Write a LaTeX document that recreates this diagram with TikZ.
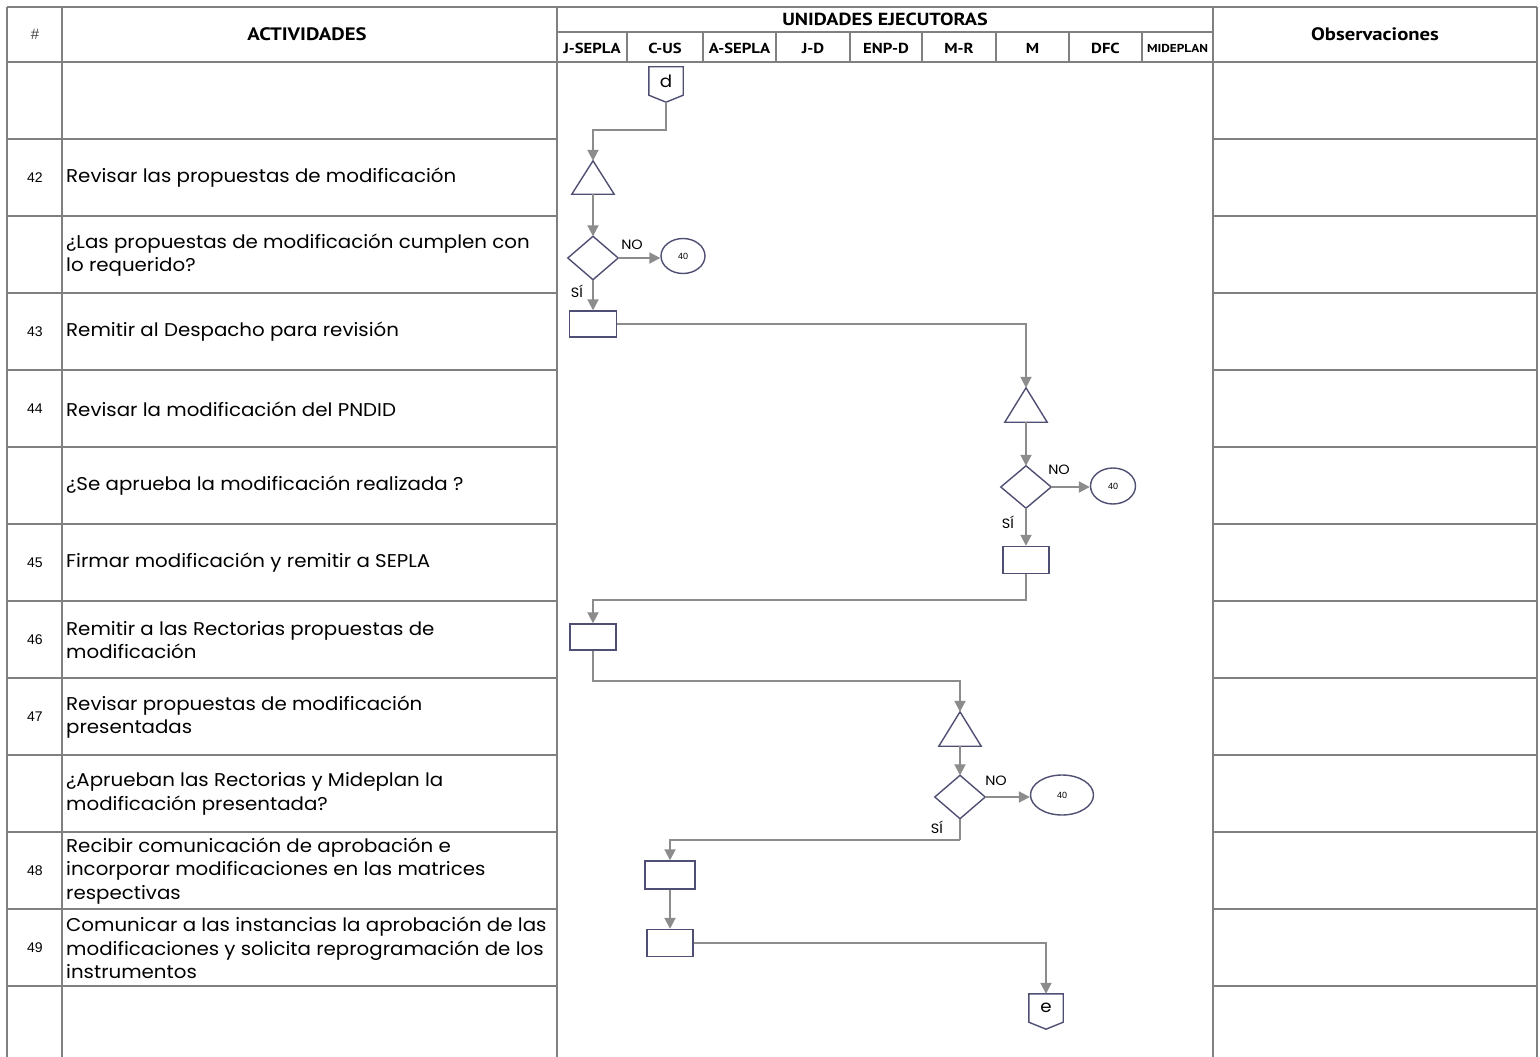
\documentclass[tikz,border=0pt]{standalone}
\usepackage{fontspec}
\setmainfont{Poppins}[FakeStretch=1.07]
\newfontfamily\hdrfont{PT Sans}[FakeStretch=1.15]
\newfontfamily\numfont{Liberation Sans}
\usetikzlibrary{arrows.meta,calc,shapes.geometric}
\definecolor{tline}{HTML}{808080}
\definecolor{sline}{HTML}{4F4F73}
\definecolor{aline}{HTML}{8C8C8C}
\tikzset{
 grid/.style={draw=tline,line width=2pt},
 box/.style={draw=sline,line width=1.4pt,fill=white,minimum width=47pt,minimum height=26pt,inner sep=0pt},
 ghost/.style={draw=none,inner sep=0pt},
 outl/.style={draw=sline,line width=1.4pt,line join=miter},
 flow/.style={draw=aline,line width=2pt,-{Triangle[length=11pt,width=11pt]}},
 endoval/.style={ellipse,draw=sline,line width=1.4pt,inner sep=0pt,font=\numfont\fontsize{9}{10}\selectfont},
 lbl/.style={font=\fontsize{13.5}{15}\selectfont,inner sep=0pt},
 act/.style={anchor=west,align=left,inner sep=0pt,font=\fontsize{18.5}{23.5}\selectfont},
 num/.style={font=\numfont\fontsize{14}{16}\selectfont,inner sep=0pt},
 hdr/.style={font=\hdrfont\bfseries\fontsize{18}{20}\selectfont,inner sep=0pt},
 unit/.style={font=\hdrfont\bfseries\fontsize{14.5}{16}\selectfont,inner sep=0pt},
 conn/.style={ghost,minimum width=34pt,minimum height=28pt,font=\fontsize{17}{19}\selectfont},
}
\begin{document}
\begin{tikzpicture}[x=1pt,y=-1pt]
\useasboundingbox (0,0) rectangle (1540,1057);
% ---------- table ----------
\draw[grid] (7,7) -- (1537,7);
\draw[grid] (7,62) -- (1537,62);
\draw[grid] (557,32) -- (1213,32);
\foreach \x in {7,62,557,1213,1537} \draw[grid] (\x,7) -- (\x,1057);
\foreach \x in {627,703,776,850,922,996,1069,1142} \draw[grid] (\x,32) -- (\x,62);
\foreach \y in {139,216,293,370,447,524,601,678,755,832,909,986} {
  \draw[grid] (7,\y) -- (557,\y);
  \draw[grid] (1213,\y) -- (1537,\y);
}
% ---------- header ----------
\node[num,font=\numfont\fontsize{15}{17}\selectfont,text=black!75] (hnum) at (35,34) {\#};
\node[hdr] (hact) at (307,34) {ACTIVIDADES};
\node[hdr,font=\hdrfont\bfseries\fontsize{17.5}{20}\selectfont] (hue) at (885,19) {UNIDADES EJECUTORAS};
\node[hdr] (hobs) at (1375,34) {Observaciones};
\node[unit] (u1) at (592,48) {J-SEPLA};
\node[unit] (u2) at (665,48) {C-US};
\node[unit] (u3) at (739.5,48) {A-SEPLA};
\node[unit] (u4) at (813,48) {J-D};
\node[unit] (u5) at (886,48) {ENP-D};
\node[unit] (u6) at (959,48) {M-R};
\node[unit] (u7) at (1032.5,48) {M};
\node[unit] (u8) at (1105.5,48) {DFC};
\node[unit,font=\hdrfont\bfseries\fontsize{11.5}{13}\selectfont] (u9) at (1177.5,48) {MIDEPLAN};
% ---------- activities ----------
\node[num] (n42) at (35,178) {42};
\node[act] (a42) at (66,178) {Revisar las propuestas de modificación};
\node[act] (a42q) at (66,255) {¿Las propuestas de modificación cumplen con\\lo requerido?};
\node[num] (n43) at (35,332) {43};
\node[act] (a43) at (66,332) {Remitir al Despacho para revisión};
\node[num] (n44) at (35,409) {44};
\node[act] (a44) at (66,409) {Revisar la modificación del PNDID};
\node[act] (a44q) at (66,486) {¿Se aprueba la modificación realizada ?};
\node[num] (n45) at (35,563) {45};
\node[act] (a45) at (66,563) {Firmar modificación y remitir a SEPLA};
\node[num] (n46) at (35,640) {46};
\node[act] (a46) at (66,640) {Remitir a las Rectorias propuestas de\\modificación};
\node[num] (n47) at (35,717) {47};
\node[act] (a47) at (66,717) {Revisar propuestas de modificación\\presentadas};
\node[act] (a47q) at (66,794) {¿Aprueban las Rectorias y Mideplan la\\modificación presentada?};
\node[num] (n48) at (35,871) {48};
\node[act] (a48) at (66,871) {Recibir comunicación de aprobación e\\incorporar modificaciones en las matrices\\respectivas};
\node[num] (n49) at (35,948) {49};
\node[act] (a49) at (66,948) {Comunicar a las instancias la aprobación de las\\modificaciones y solicita reprogramación de los\\instrumentos};
% ---------- flow shapes ----------
\node[conn] (d) at (666,81) {d};
\draw[outl] (d.north west) -- (d.north east) -- (d.south east) -- ($(d.south)+(0,7)$) -- (d.south west) -- cycle;
\coordinate (dtip) at ($(d.south)+(0,7)$);

\node[ghost,minimum width=42pt,minimum height=33pt] (t1) at (593,177.5) {};
\draw[outl] (t1.north) -- (t1.south east) -- (t1.south west) -- cycle;
\node[ghost,minimum width=50pt,minimum height=43pt] (dia1) at (593,258) {};
\draw[outl] (dia1.north) -- (dia1.east) -- (dia1.south) -- (dia1.west) -- cycle;
\node[endoval,minimum width=44pt,minimum height=35pt] (o1) at (683,256) {40};
\node[lbl] (no1) at (632,245) {NO};
\node[lbl] (si1) at (577,291) {SÍ};
\node[box] (r43) at (593,324) {};

\node[ghost,minimum width=42pt,minimum height=34pt] (t2) at (1026,405) {};
\draw[outl] (t2.north) -- (t2.south east) -- (t2.south west) -- cycle;
\node[ghost,minimum width=50pt,minimum height=42pt] (dia2) at (1026,487) {};
\draw[outl] (dia2.north) -- (dia2.east) -- (dia2.south) -- (dia2.west) -- cycle;
\node[endoval,minimum width=45pt,minimum height=36pt] (o2) at (1113,486) {40};
\node[lbl] (no2) at (1059,470) {NO};
\node[lbl] (si2) at (1008,522) {SÍ};
\node[box,minimum width=46pt,minimum height=27pt] (r45) at (1026,560) {};

\node[box,minimum width=46pt] (r46) at (593,637) {};

\node[ghost,minimum width=42pt,minimum height=34pt] (t3) at (960,729) {};
\draw[outl] (t3.north) -- (t3.south east) -- (t3.south west) -- cycle;
\node[ghost,minimum width=50pt,minimum height=43pt] (dia3) at (960,797) {};
\draw[outl] (dia3.north) -- (dia3.east) -- (dia3.south) -- (dia3.west) -- cycle;
\node[endoval,minimum width=63pt,minimum height=40pt] (o3) at (1062,795) {40};
\node[lbl] (no3) at (996,781) {NO};
\node[lbl] (si3) at (937,827) {SÍ};

\node[box,minimum width=50pt,minimum height=28pt] (r48) at (670,875) {};
\node[box,minimum width=46pt,minimum height=27pt] (r49) at (670,943) {};

\node[conn] (e) at (1046,1008) {e};
\draw[outl] (e.north west) -- (e.north east) -- (e.south east) -- ($(e.south)+(0,7)$) -- (e.south west) -- cycle;
% ---------- connectors ----------
\draw[flow] (dtip) -- ++(0,28) -| (t1.north);
\draw[flow] (t1.south) -- (dia1.north);
\draw[flow] (dia1.east) -- (dia1.east -| o1.west);
\draw[flow] (dia1.south) -- (r43.north);
\draw[flow] (r43.east) -| (t2.north);
\draw[flow] (t2.south) -- (dia2.north);
\draw[flow] (dia2.east) -- (dia2.east -| o2.west);
\draw[flow] (dia2.south) -- (r45.north);
\draw[flow] (r45.south) -- ++(0,26) -| (r46.north);
\draw[flow] (r46.south) -- ++(0,30) -| (t3.north);
\draw[flow] (t3.south) -- (dia3.north);
\draw[flow] (dia3.east) -- (dia3.east -| o3.west);
\draw[draw=aline,line width=2pt] (dia3.south) -- ++(0,21) coordinate (k3);
\draw[flow] (k3) -| (r48.north);
\draw[flow] (r48.south) -- (r49.north);
\draw[flow] (r49.east) -| (e.north);
\end{tikzpicture}
\end{document}
